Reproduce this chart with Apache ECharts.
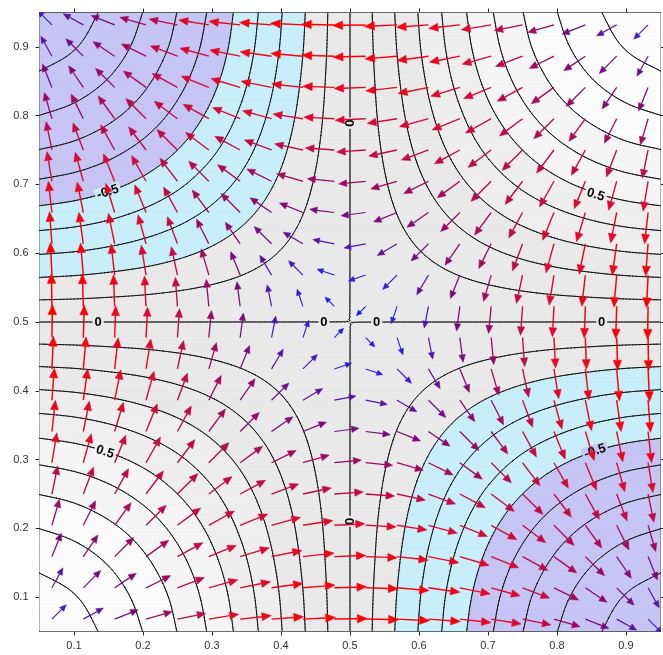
<!DOCTYPE html>
<html><head><meta charset="utf-8">
<script src="https://cdn.jsdelivr.net/npm/echarts@6/dist/echarts.min.js"></script>
<style>html,body{margin:0;padding:0;background:#fff}#c{width:663px;height:655px}</style>
</head><body><div id="c"></div>
<script>
// ---- data ----
const gridXs = [0.05,0.10,0.15,0.20,0.25,0.30,0.35,0.40,0.45,0.50,0.55,0.60,0.65,0.70,0.75,0.80,0.85,0.90,0.95];
const gridYs = [0.05,0.10,0.15,0.20,0.25,0.30,0.35,0.40,0.45,0.50,0.55,0.60,0.65,0.70,0.75,0.80,0.85,0.90,0.95];
// surface values, one row per gridYs entry (bottom to top), one column per gridXs entry
const surfaceValues = [
[0.976,0.939,0.880,0.799,0.698,0.581,0.448,0.305,0.155,0,-0.155,-0.305,-0.448,-0.581,-0.698,-0.799,-0.880,-0.939,-0.976],
[0.939,0.905,0.847,0.769,0.673,0.559,0.432,0.294,0.149,0,-0.149,-0.294,-0.432,-0.559,-0.673,-0.769,-0.847,-0.905,-0.939],
[0.880,0.847,0.794,0.721,0.630,0.524,0.405,0.275,0.139,0,-0.139,-0.275,-0.405,-0.524,-0.630,-0.721,-0.794,-0.847,-0.880],
[0.799,0.769,0.721,0.655,0.572,0.476,0.367,0.250,0.127,0,-0.127,-0.250,-0.367,-0.476,-0.572,-0.655,-0.721,-0.769,-0.799],
[0.698,0.673,0.630,0.572,0.500,0.416,0.321,0.219,0.111,0,-0.111,-0.219,-0.321,-0.416,-0.500,-0.572,-0.630,-0.673,-0.698],
[0.581,0.559,0.524,0.476,0.416,0.345,0.267,0.182,0.092,0,-0.092,-0.182,-0.267,-0.345,-0.416,-0.476,-0.524,-0.559,-0.581],
[0.448,0.432,0.405,0.367,0.321,0.267,0.206,0.140,0.071,0,-0.071,-0.140,-0.206,-0.267,-0.321,-0.367,-0.405,-0.432,-0.448],
[0.305,0.294,0.275,0.250,0.219,0.182,0.140,0.095,0.048,0,-0.048,-0.095,-0.140,-0.182,-0.219,-0.250,-0.275,-0.294,-0.305],
[0.155,0.149,0.139,0.127,0.111,0.092,0.071,0.048,0.024,0,-0.024,-0.048,-0.071,-0.092,-0.111,-0.127,-0.139,-0.149,-0.155],
[0,0,0,0,0,0,0,0,0,0,0,0,0,0,0,0,0,0,0],
[-0.155,-0.149,-0.139,-0.127,-0.111,-0.092,-0.071,-0.048,-0.024,0,0.024,0.048,0.071,0.092,0.111,0.127,0.139,0.149,0.155],
[-0.305,-0.294,-0.275,-0.250,-0.219,-0.182,-0.140,-0.095,-0.048,0,0.048,0.095,0.140,0.182,0.219,0.250,0.275,0.294,0.305],
[-0.448,-0.432,-0.405,-0.367,-0.321,-0.267,-0.206,-0.140,-0.071,0,0.071,0.140,0.206,0.267,0.321,0.367,0.405,0.432,0.448],
[-0.581,-0.559,-0.524,-0.476,-0.416,-0.345,-0.267,-0.182,-0.092,0,0.092,0.182,0.267,0.345,0.416,0.476,0.524,0.559,0.581],
[-0.698,-0.673,-0.630,-0.572,-0.500,-0.416,-0.321,-0.219,-0.111,0,0.111,0.219,0.321,0.416,0.500,0.572,0.630,0.673,0.698],
[-0.799,-0.769,-0.721,-0.655,-0.572,-0.476,-0.367,-0.250,-0.127,0,0.127,0.250,0.367,0.476,0.572,0.655,0.721,0.769,0.799],
[-0.880,-0.847,-0.794,-0.721,-0.630,-0.524,-0.405,-0.275,-0.139,0,0.139,0.275,0.405,0.524,0.630,0.721,0.794,0.847,0.880],
[-0.939,-0.905,-0.847,-0.769,-0.673,-0.559,-0.432,-0.294,-0.149,0,0.149,0.294,0.432,0.559,0.673,0.769,0.847,0.905,0.939],
[-0.976,-0.939,-0.880,-0.799,-0.698,-0.581,-0.448,-0.305,-0.155,0,0.155,0.305,0.448,0.581,0.698,0.799,0.880,0.939,0.976]
];
const contourLevels = [-0.9,-0.8,-0.7,-0.6,-0.5,-0.4,-0.3,-0.2,-0.1,0,0.1,0.2,0.3,0.4,0.5,0.6,0.7,0.8,0.9];
const fillBreaks = [-1.01,-0.5,-0.2,0.3,0.5,0.7,1.01];
const fillColors = ['#c6c5f4','#c8eff9','#e9e9e9','#eeeeee','#f5f5f5','#fcfcfc'];
const arrowXs = [0.068,0.1135,0.1589,0.2044,0.2499,0.2954,0.3408,0.3863,0.4318,0.4773,0.5227,0.5682,0.6137,0.6592,0.7046,0.7501,0.7956,0.8411,0.8865,0.932];
const arrowYs = [0.068,0.1135,0.1589,0.2044,0.2499,0.2954,0.3408,0.3863,0.4318,0.4773,0.5227,0.5682,0.6137,0.6592,0.7046,0.7501,0.7956,0.8411,0.8865,0.932];
const tickValues = [0.1,0.2,0.3,0.4,0.5,0.6,0.7,0.8,0.9];
const contourLabels = [
  [0.149,0.689,'-0.5'],[0.856,0.685,'0.5'],[0.145,0.311,'0.5'],[0.855,0.312,'-0.5'],
  [0.135,0.5,'0'],[0.4623,0.5,'0'],[0.5387,0.5,'0'],[0.8648,0.5,'0'],
  [0.5,0.789,'0'],[0.5,0.210,'0']
];

// ---- interpolation of the surface table ----
const NX = gridXs.length, NY = gridYs.length;
const hx = (gridXs[NX-1]-gridXs[0])/(NX-1), hy = (gridYs[NY-1]-gridYs[0])/(NY-1);
function G(i,j){
  if (i<0) return 2*G(0,j)-G(1,j);
  if (i>NX-1) return 2*G(NX-1,j)-G(NX-2,j);
  if (j<0) return 2*G(i,0)-G(i,1);
  if (j>NY-1) return 2*G(i,NY-1)-G(i,NY-2);
  return surfaceValues[j][i];
}
function cr(p0,p1,p2,p3,t){return 0.5*((2*p1)+(-p0+p2)*t+(2*p0-5*p1+4*p2-p3)*t*t+(-p0+3*p1-3*p2+p3)*t*t*t);}
function crd(p0,p1,p2,p3,t){return 0.5*((-p0+p2)+2*(2*p0-5*p1+4*p2-p3)*t+3*(-p0+3*p1-3*p2+p3)*t*t);}
function sample(x,y){
  const u=(x-gridXs[0])/hx, v=(y-gridYs[0])/hy;
  let i=Math.floor(u), j=Math.floor(v);
  if(i<0)i=0; if(i>NX-2)i=NX-2; if(j<0)j=0; if(j>NY-2)j=NY-2;
  const t=u-i, s=v-j, rv=[], rd=[];
  for(let m=-1;m<=2;m++){
    const a=G(i-1,j+m),b=G(i,j+m),c=G(i+1,j+m),d=G(i+2,j+m);
    rv.push(cr(a,b,c,d,t)); rd.push(crd(a,b,c,d,t));
  }
  return [cr(rv[0],rv[1],rv[2],rv[3],s), cr(rd[0],rd[1],rd[2],rd[3],s)/hx, crd(rv[0],rv[1],rv[2],rv[3],s)/hy];
}

// fine mesh
const M = 181;
const x0=gridXs[0], x1=gridXs[NX-1], y0=gridYs[0], y1=gridYs[NY-1];
const mx=[], my=[];
for(let k=0;k<=M;k++){mx.push(x0+(x1-x0)*k/M); my.push(y0+(y1-y0)*k/M);}
const F=[];
for(let k=0;k<=M;k++){const col=[];for(let l=0;l<=M;l++)col.push(sample(mx[k],my[l])[0]);F.push(col);}

const nb=fillColors.length;
function bandOf(f){let b=0;while(b<nb-1&&f>=fillBreaks[b+1])b++;return b;}
function clip(poly,level,keepAbove){
  const out=[];
  for(let n=0;n<poly.length;n++){
    const P=poly[n],Q=poly[(n+1)%poly.length];
    const pin=keepAbove?P[2]>=level:P[2]<=level;
    const qin=keepAbove?Q[2]>=level:Q[2]<=level;
    if(pin)out.push(P);
    if(pin!==qin){const t=(level-P[2])/(Q[2]-P[2]);out.push([P[0]+t*(Q[0]-P[0]),P[1]+t*(Q[1]-P[1]),level]);}
  }
  return out;
}
const fmt=v=>v.toFixed(2);
function pixelMesh(api){
  return [mx.map(x=>api.coord([x,y0])[0]), my.map(y=>api.coord([x0,y])[1])];
}
function buildFill(api){
  const [PX,PY]=pixelMesh(api);
  const parts=fillColors.map(()=>[]);
  const B=F.map(col=>col.map(bandOf));
  for(let l=0;l<M;l++){
    let rs=-1,rb=-1;
    const flush=(ke)=>{if(rs>=0){parts[rb].push('M'+fmt(PX[rs])+' '+fmt(PY[l])+'L'+fmt(PX[ke])+' '+fmt(PY[l])+'L'+fmt(PX[ke])+' '+fmt(PY[l+1])+'L'+fmt(PX[rs])+' '+fmt(PY[l+1])+'Z');rs=-1;}};
    for(let k=0;k<M;k++){
      const b0=B[k][l],b1=B[k+1][l],b2=B[k+1][l+1],b3=B[k][l+1];
      if(b0===b1&&b1===b2&&b2===b3){
        if(rs>=0&&rb===b0)continue;
        flush(k);rs=k;rb=b0;
      }else{
        flush(k);
        const A=[PX[k],PY[l],F[k][l]],Bv=[PX[k+1],PY[l],F[k+1][l]],C=[PX[k+1],PY[l+1],F[k+1][l+1]],D=[PX[k],PY[l+1],F[k][l+1]];
        const bmin=Math.min(b0,b1,b2,b3),bmax=Math.max(b0,b1,b2,b3);
        for(const tri of [[A,Bv,C],[A,C,D]]){
          for(let b=bmin;b<=bmax;b++){
            let poly=tri;
            if(b>0)poly=clip(poly,fillBreaks[b],true);
            if(poly.length>=3&&b<nb-1)poly=clip(poly,fillBreaks[b+1],false);
            if(poly.length>=3)parts[b].push('M'+poly.map(p=>fmt(p[0])+' '+fmt(p[1])).join('L')+'Z');
          }
        }
      }
    }
    flush(M);
  }
  return {type:'group',children:parts.map((arr,b)=>({type:'path',shape:{pathData:arr.join('')},style:{fill:fillColors[b],stroke:fillColors[b],lineWidth:0.3}}))};
}
function buildLines(api){
  const [PX,PY]=pixelMesh(api);
  const segs=[];
  for(const L of contourLevels){
    for(let k=0;k<M;k++)for(let l=0;l<M;l++){
      const fa=F[k][l],fb=F[k+1][l],fc=F[k+1][l+1],fd=F[k][l+1];
      const mn=Math.min(fa,fb,fc,fd),mxv=Math.max(fa,fb,fc,fd);
      if(L<mn||L>mxv)continue;
      const A=[PX[k],PY[l],fa],Bv=[PX[k+1],PY[l],fb],C=[PX[k+1],PY[l+1],fc],D=[PX[k],PY[l+1],fd];
      for(const tri of [[A,Bv,C],[A,C,D]]){
        const pts=[];
        for(let e=0;e<3;e++){
          const P=tri[e],Q=tri[(e+1)%3];
          if((P[2]>=L)!==(Q[2]>=L)){const t=(L-P[2])/(Q[2]-P[2]);pts.push([P[0]+t*(Q[0]-P[0]),P[1]+t*(Q[1]-P[1])]);}
        }
        if(pts.length===2)segs.push('M'+fmt(pts[0][0])+' '+fmt(pts[0][1])+'L'+fmt(pts[1][0])+' '+fmt(pts[1][1]));
      }
    }
  }
  return {type:'path',shape:{pathData:segs.join('')},style:{stroke:'#111',lineWidth:1,fill:'none',lineCap:'round',lineJoin:'round'}};
}

// arrows
const arrowData=[];
for(const y of arrowYs)for(const x of arrowXs)arrowData.push([x,y]);
let maxMag=0;
for(const d of arrowData){const s=sample(d[0],d[1]);maxMag=Math.max(maxMag,Math.hypot(s[1],s[2]));}
const colorStops=[[0,[20,20,255]],[0.25,[45,30,215]],[0.38,[85,20,165]],[0.52,[125,10,120]],[0.66,[170,10,85]],[0.8,[220,10,50]],[1,[255,0,0]]];
function arrowColor(t){
  for(let n=1;n<colorStops.length;n++){
    if(t<=colorStops[n][0]){
      const a=colorStops[n-1],b=colorStops[n],u=(t-a[0])/(b[0]-a[0]);
      const c=a[1].map((v,i)=>Math.round(v+(b[1][i]-v)*u));
      return 'rgb('+c.join(',')+')';
    }
  }
  return 'rgb(255,0,0)';
}

const chart=echarts.init(document.getElementById('c'),null,{renderer:'canvas'});
const axisCommon={type:'value',min:0.05,max:0.95,splitLine:{show:false},
  axisLine:{show:true,onZero:false,lineStyle:{color:'#222',width:1}},
  axisTick:{show:true,customValues:tickValues,length:4,lineStyle:{color:'#222'}}};
chart.setOption({
  animation:false,
  backgroundColor:'#ffffff',
  grid:{left:39.5,right:2.5,top:12.5,bottom:23.5},
  xAxis:[
    Object.assign({},axisCommon,{position:'bottom',axisLabel:{customValues:tickValues,color:'#333',fontSize:11,fontFamily:'Liberation Sans',margin:9,formatter:v=>v.toFixed(1)}}),
    Object.assign({},axisCommon,{position:'top',axisLabel:{show:false}})
  ],
  yAxis:[
    Object.assign({},axisCommon,{position:'left',axisLabel:{customValues:tickValues,color:'#333',fontSize:11,fontFamily:'Liberation Sans',margin:11,formatter:v=>v.toFixed(1)}}),
    Object.assign({},axisCommon,{position:'right',axisLabel:{show:false}})
  ],
  series:[
    {type:'custom',silent:true,clip:true,z:1,data:[[0.5,0.5]],renderItem:(p,api)=>buildFill(api)},
    {type:'custom',silent:true,clip:true,z:2,data:[[0.5,0.5]],renderItem:(p,api)=>buildLines(api)},
    {type:'custom',silent:true,clip:true,z:3,data:contourLabels.map(d=>[d[0],d[1]]),renderItem:(params,api)=>{
      const d=contourLabels[params.dataIndex];
      const p=api.coord([d[0],d[1]]);
      const s=sample(d[0],d[1]);
      const q=api.coord([d[0]-s[2]*1e-3,d[1]+s[1]*1e-3]);
      let ang=Math.atan2(-(q[1]-p[1]),q[0]-p[0]);
      if(ang>Math.PI/2+1e-6)ang-=Math.PI; if(ang<-Math.PI/2+1e-6)ang+=Math.PI;
      return {type:'text',x:p[0],y:p[1],rotation:ang,style:{text:d[2],fill:'#000',font:'bold 13px "Liberation Sans"',align:'center',verticalAlign:'middle',backgroundColor:fillColors[bandOf(s[0])],padding:[0,2]}};
    }},
    {type:'custom',silent:true,clip:true,z:4,data:arrowData,renderItem:(params,api)=>{
      const x=api.value(0),y=api.value(1);
      const s=sample(x,y),vx=-s[1],vy=-s[2];
      const t=Math.hypot(vx,vy)/maxMag;
      const p0=api.coord([x,y]),p1=api.coord([x+vx*1e-3,y+vy*1e-3]);
      let dx=p1[0]-p0[0],dy=p1[1]-p0[1];const dl=Math.hypot(dx,dy)||1;dx/=dl;dy/=dl;
      const L=33*Math.pow(t,0.4),hl=5+5*t,hw=(4.5+4*t)/2;
      const tip=[p0[0]+dx*L,p0[1]+dy*L],base=[tip[0]-dx*hl,tip[1]-dy*hl];
      const col=arrowColor(t);
      return {type:'group',children:[
        {type:'line',shape:{x1:p0[0],y1:p0[1],x2:base[0],y2:base[1]},style:{stroke:col,lineWidth:1+0.5*t}},
        {type:'polygon',shape:{points:[tip,[base[0]-dy*hw,base[1]+dx*hw],[base[0]+dy*hw,base[1]-dx*hw]]},style:{fill:col,stroke:col,lineWidth:0.5}}
      ]};
    }}
  ]
});
</script></body></html>
